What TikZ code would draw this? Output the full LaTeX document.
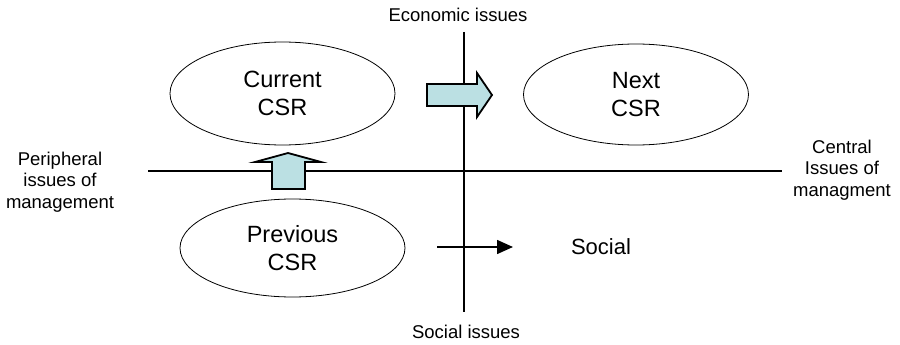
\documentclass[tikz,border=0pt]{standalone}
\usepackage{fontspec}
\setmainfont{Liberation Sans}
\usetikzlibrary{arrows.meta,shapes.geometric}
\definecolor{blockfill}{RGB}{187,224,227}
\begin{document}
\begin{tikzpicture}[x=1pt,y=-1pt,
  axisline/.style={line width=2pt},
  oval/.style={draw, ellipse, line width=0.8pt, inner sep=0pt, align=center,
    font=\fontsize{23.5}{28}\selectfont},
  lbl/.style={align=center, inner sep=0pt, font=\fontsize{18.5}{21.5}\selectfont},
  blockarrow/.style={draw, fill=blockfill, line width=1.8pt, line join=miter},
  smallarrow/.style={line width=1.5pt, -{Triangle[length=16pt,width=14pt]}}]
\useasboundingbox (0,0) rectangle (900,345);
% axes
\coordinate (vtop) at (464,32);
\coordinate (vbot) at (464,312);
\coordinate (hleft) at (148,171);
\coordinate (hright) at (782,171);
\draw[axisline] (vtop) -- (vbot);
\draw[axisline] (hleft) -- (hright);
% axis labels
\node[lbl] (econ) at (458,15) {Economic issues};
\node[lbl] (soc) at (466,332) {Social issues};
\node[lbl] (periph) at (60,182) {Peripheral\\issues of\\management};
\node[lbl] (central) at (842,170) {Central\\Issues of\\managment};
% ellipses
\node[oval, minimum width=225pt, minimum height=103pt] (cur) at (282.5,93.5) {Current\\CSR};
\node[oval, minimum width=225pt, minimum height=101pt] (next) at (636,94.5) {Next\\CSR};
\node[oval, minimum width=225pt, minimum height=98pt] (prev) at (292.5,248) {Previous\\CSR};
% block arrows
\draw[blockarrow] (427,84) -- (477,84) -- (477,73) -- (492,95) -- (477,117) -- (477,106) -- (427,106) -- cycle;
\draw[blockarrow] (272,189) -- (272,162) -- (255,162) -- (288,153) -- (321,162) -- (305,162) -- (305,189) -- cycle;
% small arrow and Social
\coordinate (sa) at (437,247);
\coordinate (sb) at (513,247);
\draw[smallarrow] (sa) -- (sb);
\node[lbl, font=\fontsize{22}{26}\selectfont] (social) at (601,247) {Social};
\end{tikzpicture}
\end{document}
